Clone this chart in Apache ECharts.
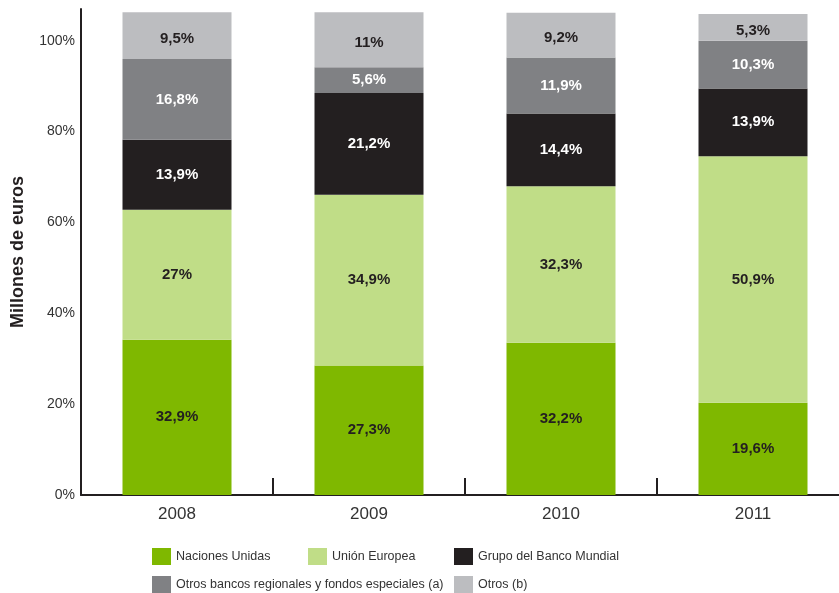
<!DOCTYPE html>
<html>
<head>
<meta charset="utf-8">
<script src="https://cdn.jsdelivr.net/npm/echarts@6/dist/echarts.min.js"></script>
<style>
html,body{margin:0;padding:0;background:#fff;}
#chart{width:839px;height:593px;}
</style>
</head>
<body>
<div id="chart"></div>
<script>
// categorias (años)
var years=['2008','2009','2010','2011'];
var yTicks=[0,20,40,60,80,100];
// alturas (la escala del original suma ~106%)
var naciones=[34.2,28.5,33.5,20.3];
var union=[28.6,37.6,34.5,54.3];
var bancoMundial=[15.4,22.4,16.0,14.9];
var otrosBancos=[17.8,5.7,12.3,10.5];
var otros=[10.3,12.1,9.9,5.9];
// etiquetas impresas en las barras
var nacionesTxt=['32,9%','27,3%','32,2%','19,6%'];
var unionTxt=['27%','34,9%','32,3%','50,9%'];
var bancoTxt=['13,9%','21,2%','14,4%','13,9%'];
var otrosBancosTxt=['16,8%','5,6%','11,9%','10,3%'];
var otrosTxt=['9,5%','11%','9,2%','5,3%'];

var names=['Naciones Unidas','Unión Europea','Grupo del Banco Mundial','Otros bancos regionales y fondos especiales (a)','Otros (b)'];
var colors=['#7fb800','#c0dd87','#231f20','#808184','#bcbdc0'];
var labelColors=['#231f20','#231f20','#ffffff','#ffffff','#231f20'];
var labelOffsets=[[0,0],[0,0],[0,0],[0,0],[0,3]];
var values=[naciones,union,bancoMundial,otrosBancos,otros];
var texts=[nacionesTxt,unionTxt,bancoTxt,otrosBancosTxt,otrosTxt];

var legendPos=[[152,548],[308,548],[454,548],[152,576],[454,576]];

var myChart=echarts.init(document.getElementById('chart'));

var series=[];
for(var i=0;i<names.length;i++){
    (function(i){
        series.push({
            name:names[i],
            type:'bar',
            stack:'total',
            barWidth:109,
            itemStyle:{color:colors[i]},
            label:{
                show:true,
                position:'inside',
                offset:labelOffsets[i],
                color:labelColors[i],
                fontFamily:'Liberation Sans, Arial, sans-serif',
                fontWeight:'bold',
                fontSize:15,
                formatter:function(p){return texts[i][p.dataIndex];}
            },
            data:values[i]
        });
    })(i);
}

var legends=[];
for(var j=0;j<names.length;j++){
    legends.push({
        data:[names[j]],
        left:legendPos[j][0],
        top:legendPos[j][1],
        padding:0,
        icon:'rect',
        itemWidth:19,
        itemHeight:17,
        selectedMode:false,
        textStyle:{
            fontFamily:'Liberation Sans, Arial, sans-serif',
            fontSize:12.5,
            color:'#333'
        }
    });
}

var option={
    animation:false,
    backgroundColor:'#fff',
    legend:legends,
    grid:{left:81,top:9,width:768,height:486,containLabel:false,outerBoundsMode:'none'},
    xAxis:{
        type:'category',
        data:years,
        axisLine:{lineStyle:{color:'#231f20',width:2}},
        axisTick:{show:true,inside:true,length:17,lineStyle:{color:'#231f20',width:2}},
        axisLabel:{
            margin:11,
            fontFamily:'Liberation Sans, Arial, sans-serif',
            fontSize:17,
            color:'#333'
        }
    },
    yAxis:{
        type:'value',
        min:0,
        max:107,
        interval:20,
        name:'Millones de euros',
        nameLocation:'middle',
        nameGap:54,
        nameTextStyle:{
            fontFamily:'Liberation Sans, Arial, sans-serif',
            fontWeight:'bold',
            fontSize:18,
            color:'#231f20'
        },
        axisLine:{show:true,lineStyle:{color:'#231f20',width:2}},
        axisTick:{show:false},
        splitLine:{show:false},
        axisLabel:{
            margin:6,
            fontFamily:'Liberation Sans, Arial, sans-serif',
            fontSize:14,
            color:'#333',
            formatter:function(v){return yTicks.indexOf(v)>=0?v+'%':'';}
        }
    },
    series:series
};
myChart.setOption(option);
</script>
</body>
</html>
